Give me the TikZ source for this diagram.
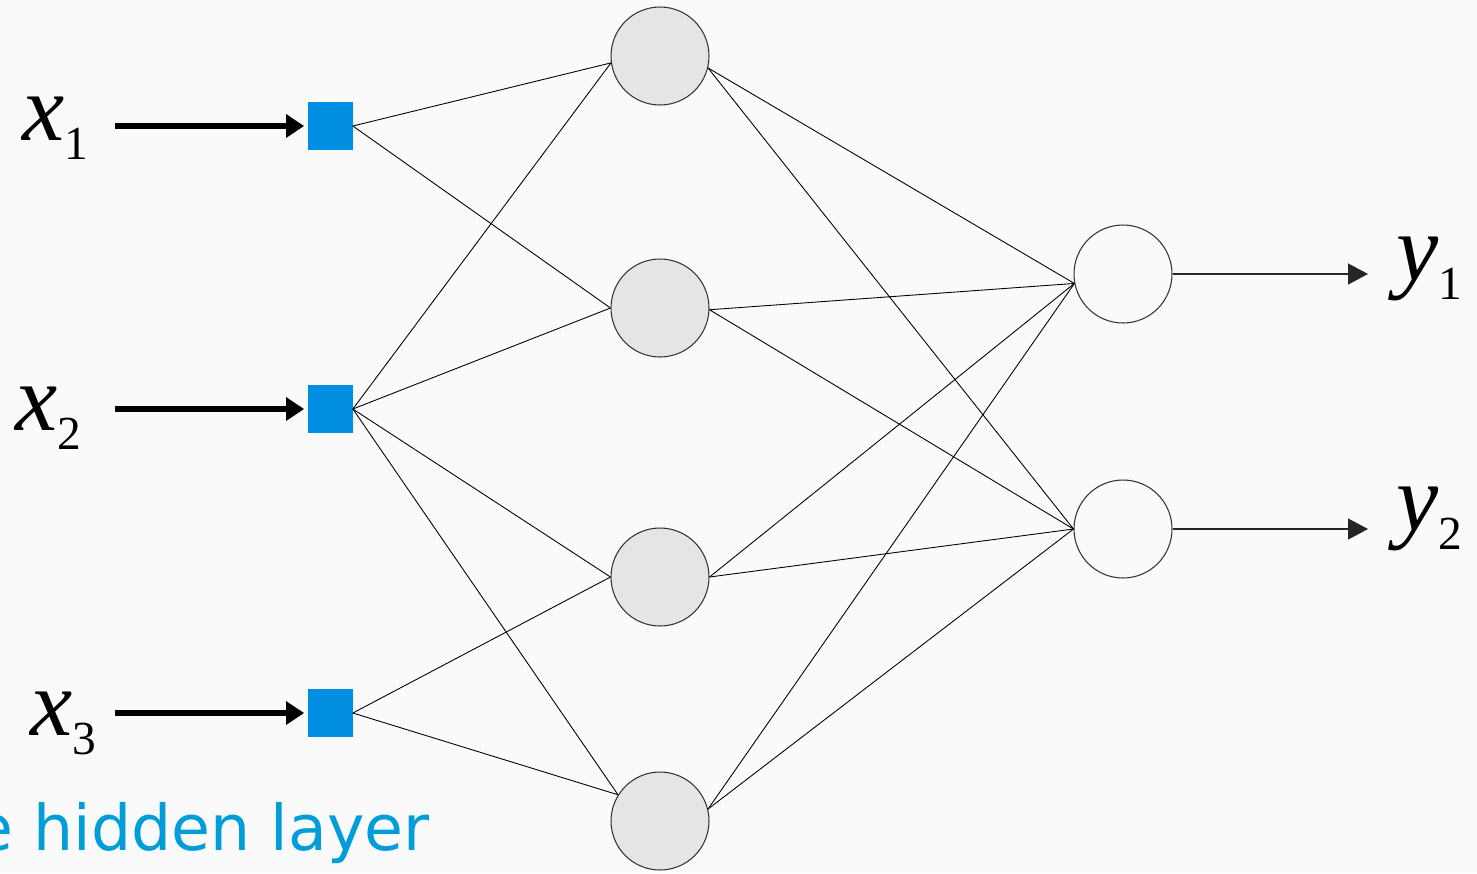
\documentclass[tikz,border=0pt]{standalone}
\usepackage{fontspec}
\usepackage{tikz}
\usetikzlibrary{arrows.meta}
\newfontfamily\labfont{Liberation Serif}
\newfontfamily\capfont{DejaVu Sans}
\definecolor{unitblue}{RGB}{0,142,224}
\definecolor{capblue}{RGB}{0,157,217}
\definecolor{hidgray}{RGB}{229,229,232}
\definecolor{bggray}{RGB}{250,250,250}
\newcommand{\netlab}[2]{{\fontsize{54}{54}\selectfont\labfont\itshape #1}\raisebox{-0.38cm}{\fontsize{27}{27}\selectfont\labfont #2}}

\begin{document}
\begin{tikzpicture}[x=0.02cm,y=-0.02cm,
  inunit/.style={rectangle,fill=unitblue,minimum width=0.9cm,minimum height=0.95cm,inner sep=0pt},
  hidunit/.style={circle,draw=black!80,fill=hidgray,line width=0.6pt,minimum size=1.96cm,inner sep=0pt},
  outunit/.style={circle,draw=black!80,line width=0.6pt,minimum size=1.96cm,inner sep=0pt},
  varlab/.style={anchor=base west,inner sep=0pt},
  weight/.style={line width=0.5pt},
  inarrow/.style={line width=3.4pt,shorten >=0.06cm,-{Triangle[length=0.36cm,width=0.45cm]}},
  outarrow/.style={line width=0.8pt,black!85,-{Triangle[length=0.4cm,width=0.42cm]}}]
\path[use as bounding box,fill=bggray] (0,0) rectangle (1477,873);
\foreach \i/\y in {1/126,2/409,3/713}
  \node[inunit] (i\i) at (330,\y) {};
\foreach \h/\y in {1/56,2/308,3/577,4/821}
  \node[hidunit] (h\h) at (660,\y) {};
\node[outunit] (o1) at (1123,274) {};
\node[outunit] (o2) at (1123,529) {};
\node[varlab] (l1) at (22,140) {\netlab{x}{1}};
\node[varlab] (l2) at (15,430) {\netlab{x}{2}};
\node[varlab] (l3) at (30,735) {\netlab{x}{3}};
\node[varlab] (r1) at (1396,280) {\netlab{y}{1}};
\node[varlab] (r2) at (1396,530) {\netlab{y}{2}};
\foreach \i/\y in {1/126,2/409,3/713} {
  \coordinate (s\i) at (115,\y);
  \draw[inarrow] (s\i) -- (i\i.west);
}
\coordinate (t1) at (1368,274);
\coordinate (t2) at (1368,529);
\draw[outarrow] (o1.east) -- (t1);
\draw[outarrow] (o2.east) -- (t2);
\foreach \i/\h/\a in {1/1/188,1/2/180,2/1/188,2/2/180,2/3/180,2/4/148,3/3/180,3/4/148}
  \draw[weight] (i\i.east) -- (h\h.\a);
\foreach \h/\b in {1/346,2/358,3/0,4/14} {
  \draw[weight] (h\h.\b) -- (o1.191);
  \draw[weight] (h\h.\b) -- (o2.west);
}
\node[anchor=base east,inner sep=0pt,text=capblue,font=\capfont\fontsize{36}{36}\selectfont] (cap) at (430,850) {e hidden layer};
\end{tikzpicture}
\end{document}
